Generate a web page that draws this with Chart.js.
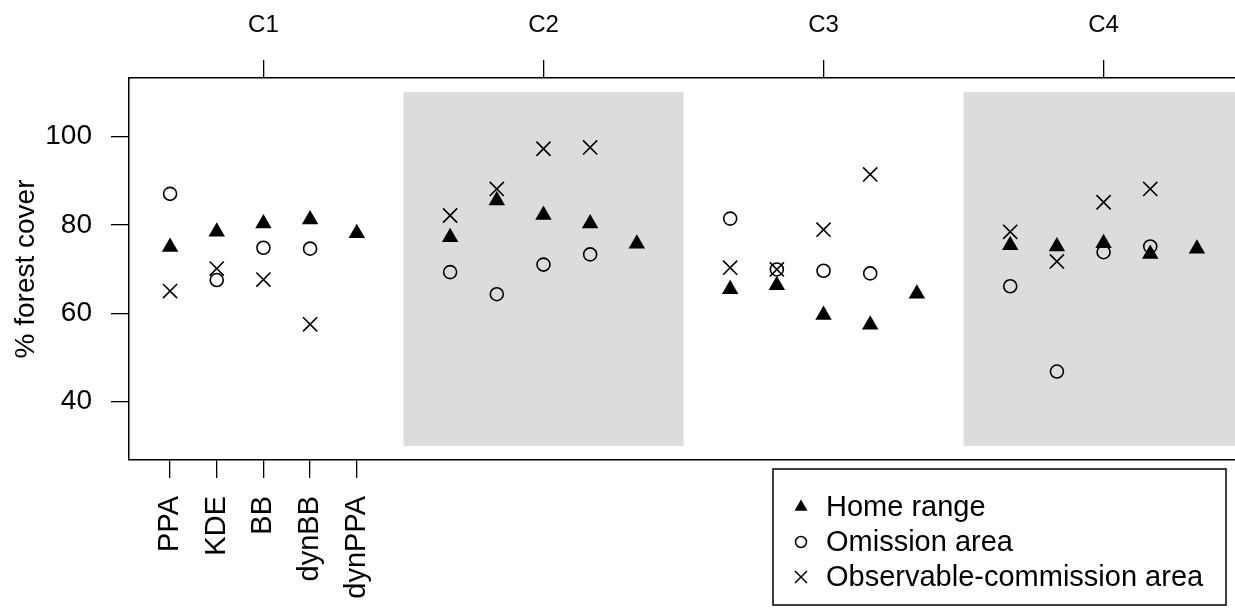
<!DOCTYPE html>
<html>
<head>
<meta charset="utf-8">
<script src="https://cdn.jsdelivr.net/npm/chart.js@4"></script>
<style>
  html, body { margin: 0; padding: 0; background: #fff; overflow: hidden; }
  canvas { display: block; }
</style>
</head>
<body>
<canvas id="chart" width="1240" height="611"></canvas>
<script>
const methods = ['PPA', 'KDE', 'BB', 'dynBB', 'dynPPA'];
const groups = ['C1', 'C2', 'C3', 'C4'];
const yTicks = [40, 60, 80, 100];

// one value per method, per group (C1..C4)
const homeRange = [75.0, 78.4, 80.3, 81.2, 78.1,
                   77.2, 85.5, 82.2, 80.3, 75.7,
                   65.4, 66.3, 59.6, 57.4, 64.4,
                   75.4, 75.1, 75.8, 73.4, 74.6];
const omission = [87.0, 67.5, 74.8, 74.6, null,
                  69.3, 64.3, 71.0, 73.3, null,
                  81.4, 69.9, 69.6, 69.0, null,
                  66.1, 46.8, 73.8, 75.1, null];
const commission = [65.0, 70.1, 67.6, 57.5, null,
                    82.1, 88.1, 97.2, 97.5, null,
                    70.3, 69.9, 78.9, 91.4, null,
                    78.4, 71.7, 85.1, 88.1, null];

const FONT = "'Liberation Sans', Arial, Helvetica, sans-serif";
const GAP = 6; // x units between groups

function xOf(i) {
  return Math.floor(i / methods.length) * GAP + (i % methods.length) + 1;
}
function toPoints(vals) {
  return vals.map((v, i) => ({ x: xOf(i), y: v }));
}

// grey bands behind C2 and C4
const bandPlugin = {
  id: 'bands',
  beforeDatasetsDraw(chart) {
    const { ctx, chartArea, scales } = chart;
    ctx.save();
    ctx.beginPath();
    ctx.rect(chartArea.left, chartArea.top, chartArea.right - chartArea.left, chartArea.bottom - chartArea.top);
    ctx.clip();
    ctx.fillStyle = '#dcdcdc';
    groups.forEach((g, gi) => {
      if (gi % 2 === 0) return;
      const x0 = scales.x.getPixelForValue(gi * GAP);
      const x1 = scales.x.getPixelForValue(gi * GAP + GAP);
      const y0 = scales.y.getPixelForValue(110);
      const y1 = scales.y.getPixelForValue(30);
      ctx.fillRect(x0, y0, x1 - x0, y1 - y0);
    });
    ctx.restore();
  }
};

// R-style legend box below the plot
const legendPlugin = {
  id: 'rlegend',
  afterDraw(chart) {
    const ctx = chart.ctx;
    const bx = 773, by = 469, bw = 453, bh = 136;
    ctx.save();
    ctx.strokeStyle = '#000';
    ctx.lineWidth = 1.5;
    ctx.strokeRect(bx, by, bw, bh);
    ctx.font = '29px ' + FONT;
    ctx.fillStyle = '#000';
    ctx.textBaseline = 'middle';
    chart.data.datasets.forEach((ds, i) => {
      const cy = by + 38 + i * 35;
      const sx = 801;
      ctx.beginPath();
      if (ds.pointStyle === 'triangle') {
        const r = 7.5;
        ctx.moveTo(sx, cy - r);
        ctx.lineTo(sx + r * 0.866, cy + r / 2);
        ctx.lineTo(sx - r * 0.866, cy + r / 2);
        ctx.closePath();
        ctx.fill();
      } else if (ds.pointStyle === 'circle') {
        ctx.lineWidth = 1.5;
        ctx.arc(sx, cy, 5.5, 0, Math.PI * 2);
        ctx.stroke();
      } else {
        ctx.lineWidth = 1.5;
        const d = 6;
        ctx.moveTo(sx - d, cy - d); ctx.lineTo(sx + d, cy + d);
        ctx.moveTo(sx + d, cy - d); ctx.lineTo(sx - d, cy + d);
        ctx.stroke();
      }
      ctx.fillText(ds.label, 826, cy + 1);
    });
    ctx.restore();
  }
};

const axisCommon = {
  grid: { display: true, drawOnChartArea: false, drawTicks: true, tickLength: 18, color: '#000', lineWidth: 1.3 },
  border: { display: true, color: '#000', width: 1.5 },
};

function fixHorizontal(h) {
  return (s) => { s.height = h; s.paddingLeft = 0; s.paddingRight = 0; };
}

new Chart(document.getElementById('chart'), {
  type: 'scatter',
  data: {
    datasets: [
      {
        label: 'Home range',
        data: toPoints(homeRange),
        pointStyle: 'triangle',
        pointRadius: 9.5,
        backgroundColor: '#000',
        borderColor: '#000',
        borderWidth: 0,
        order: 3
      },
      {
        label: 'Omission area',
        data: toPoints(omission),
        pointStyle: 'circle',
        pointRadius: 6.5,
        backgroundColor: 'rgba(0,0,0,0)',
        borderColor: '#000',
        borderWidth: 1.6,
        order: 2
      },
      {
        label: 'Observable-commission area',
        data: toPoints(commission),
        pointStyle: 'crossRot',
        pointRadius: 10,
        backgroundColor: '#000',
        borderColor: '#000',
        borderWidth: 1.6,
        order: 1
      }
    ]
  },
  options: {
    responsive: false,
    animation: false,
    layout: { autoPadding: false, padding: { top: 0, left: 0, right: 2, bottom: 0 } },
    plugins: {
      legend: { display: false },
      tooltip: { enabled: false }
    },
    elements: { point: { hoverRadius: 0 } },
    scales: {
      x: {
        ...axisCommon,
        type: 'linear',
        position: 'bottom',
        min: 0.12,
        max: 23.88,
        afterBuildTicks: (s) => { s.ticks = methods.map((m, i) => ({ value: i + 1 })); },
        afterFit: fixHorizontal(151),
        ticks: {
          autoSkip: false,
          minRotation: 90,
          maxRotation: 90,
          padding: 18,
          color: '#000',
          font: { size: 29, family: FONT },
          callback: (v) => methods[v - 1]
        }
      },
      x2: {
        ...axisCommon,
        type: 'linear',
        position: 'top',
        min: 0.12,
        max: 23.88,
        afterBuildTicks: (s) => { s.ticks = groups.map((g, i) => ({ value: i * GAP + 3 })); },
        afterFit: fixHorizontal(78),
        ticks: {
          autoSkip: false,
          maxRotation: 0,
          padding: 20,
          color: '#000',
          font: { size: 24, family: FONT },
          callback: (v) => groups[(v - 3) / GAP]
        }
      },
      y: {
        ...axisCommon,
        type: 'linear',
        position: 'left',
        min: 26.8,
        max: 113.2,
        afterBuildTicks: (s) => { s.ticks = yTicks.map(v => ({ value: v })); },
        afterFit: (s) => { s.width = 129; s.paddingTop = 0; s.paddingBottom = 0; },
        title: {
          display: true,
          text: '% forest cover',
          color: '#000',
          font: { size: 28, family: FONT },
          padding: { top: 9, bottom: 0 }
        },
        ticks: {
          padding: 19,
          color: '#000',
          font: { size: 28, family: FONT }
        }
      }
    }
  },
  plugins: [bandPlugin, legendPlugin]
});
</script>
</body>
</html>
